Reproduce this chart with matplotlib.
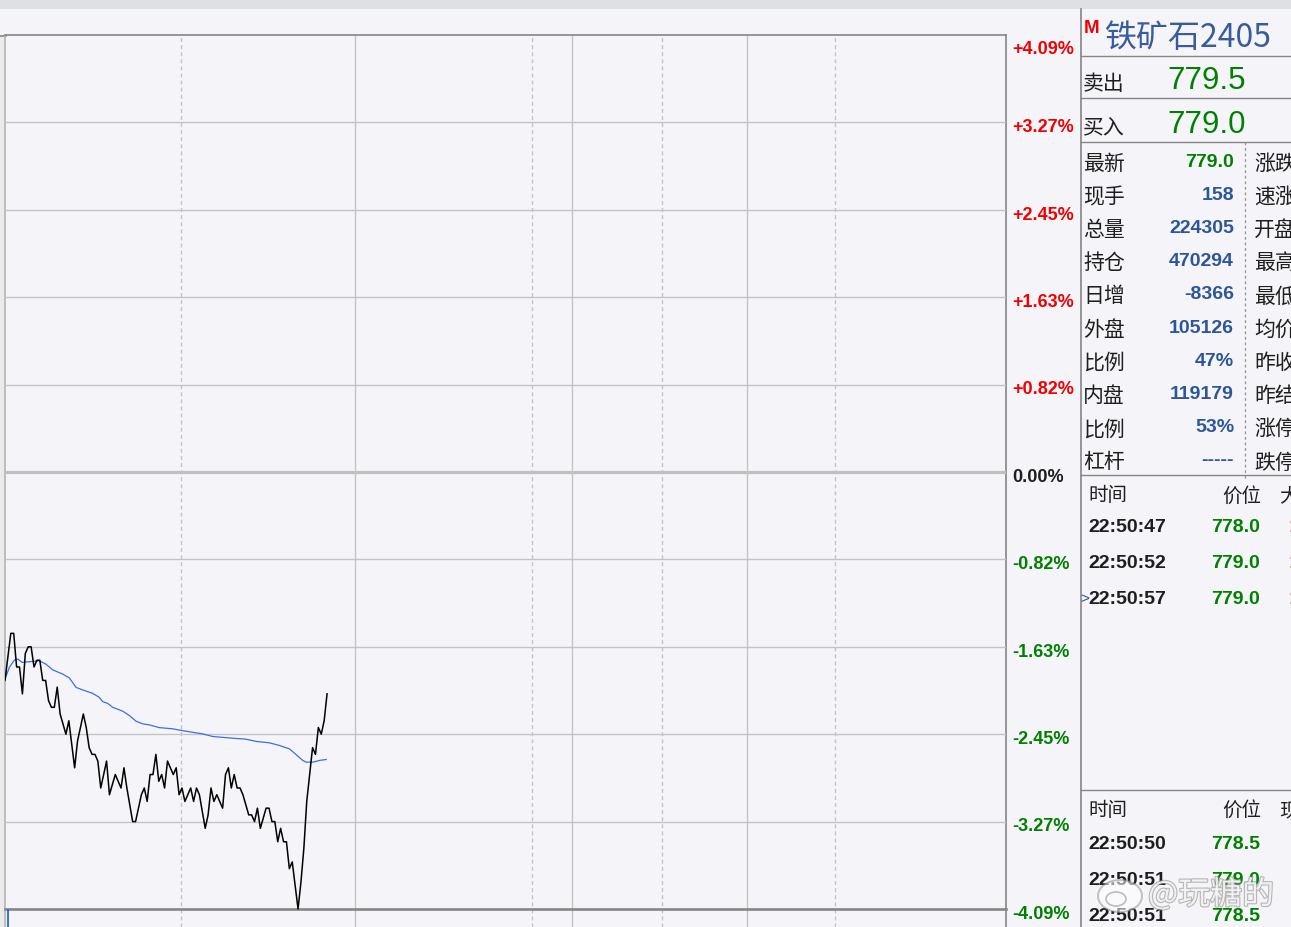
import numpy as np
import matplotlib.pyplot as plt
from matplotlib.patches import Rectangle, Ellipse
from matplotlib import patheffects as pe

plt.rcParams['font.family'] = ['Liberation Sans', 'Noto Sans CJK SC', 'DejaVu Sans']
plt.rcParams['lines.scale_dashes'] = False

W, H = 1291, 928
CJK = ['Noto Sans CJK SC', 'DejaVu Sans']
LAT = ['Liberation Sans', 'DejaVu Sans']

# minutes since 21:00 (night session) and last price
price_min = [0, 2, 3, 4, 5, 6, 7, 8, 9, 10, 11, 12, 13, 14, 15, 16, 17, 18, 19, 21,
             22, 24, 25, 27, 28, 29, 30, 31, 32, 33, 35, 36, 38, 40, 41, 42, 44, 45, 47, 48,
             49, 50, 51, 52, 53, 54, 55, 56, 57, 58, 59, 60, 61, 62, 64, 65, 66, 67, 69, 70,
             71, 72, 73, 75, 76, 77, 78, 79, 80, 81, 82, 84, 85, 86, 87, 88, 90, 91, 92, 93,
             94, 95, 96, 97, 98, 99, 101, 102, 103, 104, 106, 107, 108, 109, 110, 111]
price_val = [780.0, 783.5, 783.5, 781.0, 781.0, 779.0, 782.0, 782.5, 782.5, 781.0,
             781.5, 781.5, 780.0, 780.0, 778.5, 778.0, 778.0, 779.5, 777.5, 776.0,
             777.0, 773.5, 775.5, 777.5, 776.5, 775.0, 774.5, 774.5, 774.0, 772.0,
             774.0, 771.5, 773.0, 772.0, 773.5, 772.0, 769.5, 769.5, 771.5, 772.0,
             771.0, 773.0, 773.0, 774.5, 772.5, 773.0, 772.0, 774.0, 773.5, 773.0,
             773.5, 771.5, 772.0, 771.0, 772.0, 771.0, 772.0, 771.5, 769.0, 770.0,
             772.0, 771.0, 771.5, 770.5, 773.0, 773.5, 772.0, 773.0, 772.0, 772.0,
             771.5, 770.0, 770.0, 769.5, 770.5, 769.0, 770.5, 770.5, 769.5, 769.5,
             768.0, 769.0, 768.0, 768.0, 766.0, 766.5, 763.0, 765.0, 767.5, 771.0,
             775.0, 774.5, 776.5, 776.0, 777.0, 779.0]

# average price line
avg_min = [0, 1.5, 3.2, 4.4, 5.9, 8.4, 11.8, 14.1, 16.4, 19.9,
           22.2, 24.5, 26.8, 30.2, 32.5, 33.7, 35.4, 37.1, 40.6, 42.9,
           45.2, 47.5, 49.8, 53.2, 57.8, 62.4, 68.2, 71.6, 78.5, 83.1,
           86.6, 91.1, 94.6, 98.0, 100.3, 102.6, 103.8, 106.1, 108.4, 110.7]
avg_val = [780.10, 780.97, 781.51, 781.59, 781.34, 781.39, 781.46, 781.21, 780.79, 780.47,
           780.18, 779.48, 779.29, 779.04, 778.74, 778.42, 778.29, 778.00, 777.71, 777.38,
           776.96, 776.77, 776.69, 776.49, 776.40, 776.22, 776.02, 775.83, 775.70, 775.63,
           775.46, 775.36, 775.16, 774.91, 774.49, 774.05, 773.92, 773.92, 774.05, 774.12]

vol_min = [1]
vol_val = [1.5]

pre_settle = 795.5
grid_step = 6.5
session_len = 345
vgrid_solid = [120.6, 195.4, 255.7]
vgrid_dashed = [60.7, 181.6, 226.4, 286.1]

symbol = '铁矿石2405'
ask_label, ask_price = '卖出', '779.5'
bid_label, bid_price = '买入', '779.0'
quote_labels = ['最新', '现手', '总量', '持仓', '日增', '外盘', '比例', '内盘', '比例', '杠杆']
quote_values = ['779.0', '158', '224305', '470294', '-8366', '105126', '47%', '119179', '53%', '-----']
quote_labels2 = ['涨跌', '速涨', '开盘', '最高', '最低', '均价', '昨收', '昨结', '涨停', '跌停']
tick_times1 = ['22:50:47', '22:50:52', '22:50:57']
tick_prices1 = ['778.0', '779.0', '779.0']
tick_times2 = ['22:50:50', '22:50:51', '22:50:51']
tick_prices2 = ['778.5', '779.0', '778.5']

RED, GREEN, BLUE, DARK = '#f00000', '#008000', '#2c559c', '#1e1e1e'
GRID = '#c4c4c4'
EDGE = '#858585'

fig = plt.figure(figsize=(W / 100, H / 100), dpi=100, facecolor='#f5f5f9')

# background / panel layer in pixel coords
bg = fig.add_axes([0, 0, 1, 1], zorder=0)
bg.set_xlim(0, W)
bg.set_ylim(H, 0)
bg.axis('off')
bg.add_patch(Rectangle((0, 0), W, 9.5, color='#dfe0e4', lw=0))
bg.add_patch(Rectangle((0, 36), 5, H - 36, color='#ebebeb', lw=0))
bg.plot([0, 6], [36.5, 36.5], color=EDGE, lw=1.2)
bg.plot([1080.5, 1080.5], [10, H], color=EDGE, lw=1.2)
for yy in [57, 99, 143, 476, 791]:
    bg.plot([1080.5, W], [yy, yy], color=EDGE, lw=1.0)
bg.plot([1245, 1245], [143, 480], color='#909090', lw=0.9, ls=(0, (2, 2)))

# main intraday chart
ax = fig.add_axes([5 / W, 0, 1001 / W, (H - 36) / H], zorder=2)
ax.patch.set_alpha(0)
top = pre_settle + 5 * grid_step
bot = pre_settle - 5 * grid_step
px_per_yuan = (910 - 36) / (top - bot)
ax.set_ylim(bot - (H - 910) / px_per_yuan, top)
ax.set_xlim(0, session_len)
for s in ax.spines.values():
    s.set_visible(False)
ax.set_xticks([])
ax.set_yticks([])

for m in vgrid_solid:
    ax.axvline(m, color=GRID, lw=1.0)
for m in vgrid_dashed:
    ax.axvline(m, color=GRID, lw=1.0, ls=(0, (2.9, 2.2)))
ax.axvline(0, color='#b4b4b4', lw=1.2, clip_on=False)
ax.axvline(session_len, color=EDGE, lw=1.2, clip_on=False)

for k in range(-5, 6):
    lv = pre_settle + k * grid_step
    if k == 0:
        ax.axhline(lv, color='#c0c0c0', lw=2.3)
    elif k == -5:
        ax.axhline(lv, color=EDGE, lw=1.9, clip_on=False)
    elif k == 5:
        ax.axhline(lv, color=EDGE, lw=1.2, clip_on=False)
    else:
        ax.axhline(lv, color=GRID, lw=1.0)
    pct = k * grid_step / pre_settle * 100
    if k > 0:
        txt, col = '+%.2f%%' % pct, RED
    elif k < 0:
        txt, col = '%.2f%%' % pct, GREEN
    else:
        txt, col = '0.00%', DARK
    dy = -13.2 if k == 5 else -6.3
    ax.annotate(txt, xy=(1, lv), xycoords=('axes fraction', 'data'),
                xytext=(4.3, dy), textcoords='offset points',
                ha='left', va='baseline', fontsize=13, fontweight='bold',
                color=col, family=LAT, annotation_clip=False)

ax.plot(avg_min, avg_val, color='#3b6fe0', lw=0.9, zorder=3)
ax.plot(price_min, price_val, color='black', lw=1.1, zorder=4)

# volume strip (only its top edge is visible)
axv = fig.add_axes([5 / W, 0, 1001 / W, (H - 910) / H], zorder=2)
axv.patch.set_alpha(0)
axv.set_xlim(0, session_len)
axv.set_ylim(0, 1)
axv.axis('off')
axv.vlines(vol_min, 0, vol_val, color='#2f5ee0', lw=1.3)

# quote panel
bg.text(1084, 33, 'M', color=RED, fontsize=13.5, fontweight='bold', family=LAT, va='baseline')
bg.text(1105, 47, symbol, color='#385b9d', fontsize=23, family=CJK, va='baseline')
bg.text(1083, 89.5, ask_label, color=DARK, fontsize=15, family=CJK, va='baseline')
bg.text(1167, 89, ask_price, color=GREEN, fontsize=22.5, family=LAT, va='baseline')
bg.text(1083, 133, bid_label, color=DARK, fontsize=15, family=CJK, va='baseline')
bg.text(1167, 133, bid_price, color=GREEN, fontsize=22.5, family=LAT, va='baseline')

for i, (lab, val, lab2) in enumerate(zip(quote_labels, quote_values, quote_labels2)):
    yb = 166.7 + 33.2 * i
    bg.text(1083, yb + 3, lab, color=DARK, fontsize=15, family=CJK, va='baseline')
    bg.text(1234, yb, val, color=GREEN if i == 0 else BLUE, fontsize=14,
            fontweight='bold', family=LAT, va='baseline', ha='right')
    bg.text(1254, yb + 3, lab2, color=DARK, fontsize=15, family=CJK, va='baseline')

# tick panels
bg.text(1088, 501.5, '时间', color=DARK, fontsize=14, family=CJK, va='baseline')
bg.text(1261, 501.5, '价位', color=DARK, fontsize=14, family=CJK, va='baseline', ha='right')
bg.text(1279, 501.5, '大', color=DARK, fontsize=14, family=CJK, va='baseline')
for i, (t, p) in enumerate(zip(tick_times1, tick_prices1)):
    yb = 532.3 + 36 * i
    bg.text(1088, yb, t, color=DARK, fontsize=14, fontweight='bold', family=LAT, va='baseline')
    bg.text(1260, yb, p, color=GREEN, fontsize=14, fontweight='bold', family=LAT,
            va='baseline', ha='right')
    bg.text(1288.5, yb, '1', color='#d0904a', fontsize=14, fontweight='bold', family=LAT,
            va='baseline')
bg.text(1080.5, 603, '>', color='#2c4f9a', fontsize=11, family=LAT, va='baseline')

bg.text(1088, 816, '时间', color=DARK, fontsize=14, family=CJK, va='baseline')
bg.text(1261, 816, '价位', color=DARK, fontsize=14, family=CJK, va='baseline', ha='right')
bg.text(1279, 816, '现', color=DARK, fontsize=14, family=CJK, va='baseline')
for i, (t, p) in enumerate(zip(tick_times2, tick_prices2)):
    yb = 849 + 36 * i
    bg.text(1088, yb, t, color=DARK, fontsize=14, fontweight='bold', family=LAT, va='baseline')
    bg.text(1260, yb, p, color=GREEN, fontsize=14, fontweight='bold', family=LAT,
            va='baseline', ha='right')

# watermark
wm = fig.add_axes([0, 0, 1, 1], zorder=5)
wm.set_xlim(0, W)
wm.set_ylim(H, 0)
wm.axis('off')
wm.add_patch(Ellipse((1120, 897), 44, 32, facecolor='white', edgecolor='#8a8a8a',
                     lw=1.3, alpha=0.55))
wm.add_patch(Ellipse((1116, 900), 20, 14, facecolor='none', edgecolor='#8a8a8a',
                     lw=1.2, alpha=0.55))
wm.text(1148, 905, '@玩糖的', color='white', alpha=0.8, fontsize=23, family=CJK,
        va='baseline',
        path_effects=[pe.withStroke(linewidth=1.6, foreground='#8c8c8c', alpha=0.6)])

fig.savefig('out.png', dpi=100, facecolor=fig.get_facecolor())
